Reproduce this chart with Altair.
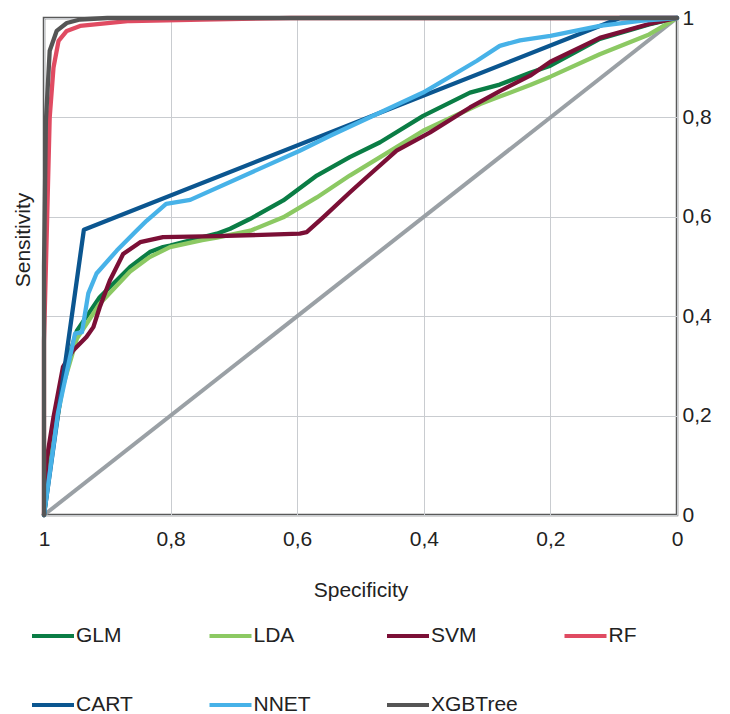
import altair as alt
import pandas as pd

models = ["GLM", "LDA", "SVM", "RF", "CART", "NNET", "XGBTree"]
colors = ["#0a7d45", "#8cc963", "#7b0f36", "#e04b62", "#0b5690", "#47b2e8", "#555555"]

glm_spec = [1, 0.985, 0.97, 0.948, 0.912, 0.864, 0.833, 0.812, 0.801, 0.749, 0.727, 0.706, 0.674, 0.622, 0.569, 0.517, 0.469, 0.401, 0.327, 0.28, 0.232, 0.2, 0.122, 0.044, 0]
glm_sens = [0, 0.17, 0.28, 0.371, 0.438, 0.499, 0.529, 0.539, 0.542, 0.559, 0.566, 0.576, 0.596, 0.633, 0.683, 0.72, 0.75, 0.803, 0.85, 0.866, 0.89, 0.904, 0.958, 0.987, 1]

lda_spec = [1, 0.985, 0.97, 0.948, 0.912, 0.864, 0.833, 0.801, 0.75, 0.727, 0.674, 0.622, 0.569, 0.517, 0.469, 0.401, 0.311, 0.28, 0.232, 0.2, 0.122, 0.044, 0]
lda_sens = [0, 0.15, 0.26, 0.355, 0.425, 0.49, 0.519, 0.539, 0.553, 0.558, 0.572, 0.599, 0.639, 0.683, 0.72, 0.773, 0.827, 0.842, 0.865, 0.882, 0.927, 0.967, 1]

svm_spec = [1, 0.996, 0.985, 0.97, 0.954, 0.933, 0.922, 0.912, 0.896, 0.875, 0.848, 0.812, 0.727, 0.596, 0.585, 0.559, 0.517, 0.496, 0.443, 0.39, 0.327, 0.28, 0.232, 0.2, 0.122, 0.044, 0]
svm_sens = [0, 0.11, 0.197, 0.298, 0.331, 0.358, 0.378, 0.418, 0.472, 0.525, 0.549, 0.559, 0.561, 0.566, 0.569, 0.599, 0.649, 0.673, 0.733, 0.77, 0.82, 0.853, 0.884, 0.912, 0.96, 0.988, 1]

rf_spec = [1, 1, 0.995, 0.991, 0.985, 0.977, 0.964, 0.943, 0.864, 0.75, 0.61, 0]
rf_sens = [0, 0.35, 0.6, 0.8, 0.9, 0.954, 0.974, 0.984, 0.994, 0.997, 1, 1]

cart_spec = [1, 0.937, 0.09, 0]
cart_sens = [0, 0.574, 1, 1]

nnet_spec = [1, 0.978, 0.951, 0.94, 0.93, 0.917, 0.885, 0.854, 0.838, 0.807, 0.769, 0.596, 0.548, 0.401, 0.316, 0.28, 0.248, 0.2, 0.122, 0.058, 0]
nnet_sens = [0, 0.205, 0.365, 0.368, 0.446, 0.486, 0.532, 0.572, 0.592, 0.626, 0.634, 0.733, 0.763, 0.85, 0.914, 0.944, 0.955, 0.964, 0.984, 0.994, 1]

xgb_spec = [1, 1, 0.997, 0.991, 0.98, 0.964, 0.943, 0.9, 0]
xgb_sens = [0, 0.5, 0.793, 0.934, 0.974, 0.99, 0.997, 1, 1]

diag_spec = [1, 0]
diag_sens = [0, 1]

tick_values = [0, 0.2, 0.4, 0.6, 0.8, 1]

series = {
    "GLM": (glm_spec, glm_sens),
    "LDA": (lda_spec, lda_sens),
    "SVM": (svm_spec, svm_sens),
    "RF": (rf_spec, rf_sens),
    "CART": (cart_spec, cart_sens),
    "NNET": (nnet_spec, nnet_sens),
    "XGBTree": (xgb_spec, xgb_sens),
}

rows = []
for mi, m in enumerate(models):
    sp, se = series[m]
    for i, (a, b) in enumerate(zip(sp, se)):
        rows.append({"model": m, "spec": a, "sens": b, "ord": i})
df = pd.DataFrame(rows)
diag = pd.DataFrame({"spec": diag_spec, "sens": diag_sens})
title_df = pd.DataFrame({"t": ["Sensitivity"]})

FONT = "Liberation Sans"
lab = "replace(format(datum.value, '.1~f'), '.', ',')"

xscale = alt.Scale(domain=[0, 1], reverse=True, nice=False)
yscale = alt.Scale(domain=[0, 1], nice=False)

xaxis = alt.Axis(values=tick_values, labelExpr=lab, title="Specificity", ticks=False, domain=False,
                 grid=True, gridColor="#c9ccd0", gridWidth=1, labelFontSize=21, titleFontSize=21,
                 labelFont=FONT, titleFont=FONT, labelColor="#222", titleColor="#222",
                 titleFontWeight="normal", labelPadding=13, titlePadding=30, labelFlush=False)
yaxis = alt.Axis(values=tick_values, labelExpr=lab, title=None, orient="right", ticks=False, domain=False,
                 grid=True, gridColor="#c9ccd0", gridWidth=1, labelFontSize=21, labelFont=FONT,
                 labelColor="#222", labelPadding=5, labelFlush=False)

diag_layer = alt.Chart(diag).mark_line(color="#9aa0a5", strokeWidth=4).encode(
    x=alt.X("spec:Q", scale=xscale, axis=xaxis),
    y=alt.Y("sens:Q", scale=yscale, axis=yaxis),
)

lines = alt.Chart(df).mark_line(strokeWidth=4.3, strokeJoin="round", strokeCap="round").encode(
    x=alt.X("spec:Q", scale=xscale),
    y=alt.Y("sens:Q", scale=yscale),
    color=alt.Color("model:N", scale=alt.Scale(domain=models, range=colors),
                    legend=alt.Legend(orient="none", legendX=-14, legendY=595, direction="horizontal",
                                      columns=4, title=None, symbolType="stroke", symbolSize=1764,
                                      symbolStrokeWidth=4, labelFontSize=21, labelFont=FONT,
                                      labelColor="#222", labelOffset=0, columnPadding=38.5,
                                      rowPadding=36, gridAlign="all", labelLimit=300)),
    order=alt.Order("ord:Q"),
    detail="model:N",
)

side_title = alt.Chart(title_df).mark_text(angle=270, fontSize=21, font=FONT, color="#222").encode(
    text="t:N", x=alt.value(-20), y=alt.value(222)
)

chart = alt.layer(diag_layer, lines, side_title).properties(
    width=633, height=497,
    autosize=alt.AutoSizeParams(type="none"),
    padding={"left": 36, "top": 10, "right": 45, "bottom": 200},
).configure_view(stroke="#595959", strokeWidth=2.5)

chart.save("out.html", embed_options={"renderer": "svg", "actions": False})
